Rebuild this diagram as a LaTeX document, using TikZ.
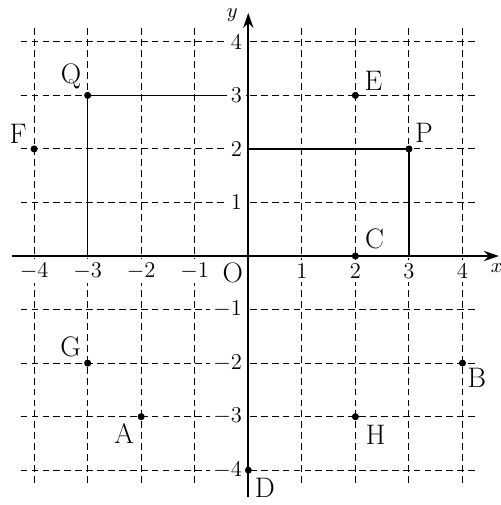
\documentclass[tikz,border=0pt]{standalone}
\usetikzlibrary{arrows.meta,calc}
\begin{document}
\begin{tikzpicture}[x=1cm,y=1cm,
  gridline/.style={line width=0.6pt, dash pattern=on 3.6pt off 2.2pt},
  axisline/.style={line width=0.85pt, -{Stealth[length=8pt,width=5.5pt]}},
  edgeline/.style={line width=0.85pt},
  dot/.style={circle, fill=black, inner sep=0pt, minimum size=3.6pt},
  lab/.style={font=\fontsize{15}{17}\selectfont, inner sep=0pt},
  tickx/.style={fill=white, inner sep=2pt, font=\large},
  ticky/.style={fill=white, inner sep=2pt, font=\large, anchor=east}]
\useasboundingbox (-4.637,-4.650) rectangle (4.719,4.781);
% grid
\foreach \i in {-4,-3,-2,-1,1,2,3,4} {
  \draw[gridline] (\i,4.25) -- (\i,-4.25);
  \draw[gridline] (-4.25,\i) -- (4.25,\i);
}
% axes
\coordinate (xs) at (-4.42,0);
\coordinate (xe) at (4.68,0);
\coordinate (ys) at (0,-4.50);
\coordinate (ye) at (0,4.54);
\draw[axisline] (xs) -- (xe);
\draw[axisline] (ys) -- (ye);
\node[font=\fontsize{11}{13}\selectfont, inner sep=0pt] (xl) at (4.64,-0.22) {$x$};
\node[font=\fontsize{11}{13}\selectfont, inner sep=0pt] (yl) at (-0.30,4.50) {$y$};
% points
\node[dot] (Q) at (-3,3) {};
\node[dot] (P) at (3,2) {};
\node[dot] (E) at (2,3) {};
\node[dot] (F) at (-4,2) {};
\node[dot] (C) at (2,0) {};
\node[dot] (G) at (-3,-2) {};
\node[dot] (A) at (-2,-3) {};
\node[dot] (B) at (4,-2) {};
\node[dot] (H) at (2,-3) {};
\node[dot] (D) at (0,-4) {};
\coordinate (Qx) at (-3,0);
\coordinate (Qy) at (0,3);
\coordinate (Px) at (3,0);
\coordinate (Py) at (0,2);
% solid lines
\draw[edgeline] (Q.center) -- (Qx);
\draw[edgeline] (Q.center) -- (Qy);
\draw[edgeline] (P.center) -- (Px);
\draw[edgeline] (P.center) -- (Py);
% tick labels
\foreach \i in {-4,-3,-2,-1,1,2,3,4} {
  \node[tickx] at (\i,-0.28) {$\i$};
  \node[ticky] at (-0.04,\i) {$\i$};
}
\node[lab] (O) at (-0.29,-0.31) {O};
% point labels
\node[lab] at ($(Q)+(-0.31,0.36)$) {Q};
\node[lab] at ($(F)+(-0.30,0.28)$) {F};
\node[lab] at ($(E)+(0.34,0.27)$) {E};
\node[lab] at ($(P)+(0.28,0.30)$) {P};
\node[lab] at ($(C)+(0.36,0.32)$) {C};
\node[lab] at ($(G)+(-0.32,0.30)$) {G};
\node[lab] at ($(A)+(-0.32,-0.32)$) {A};
\node[lab] at ($(B)+(0.27,-0.27)$) {B};
\node[lab] at ($(H)+(0.38,-0.34)$) {H};
\node[lab] at ($(D)+(0.31,-0.33)$) {D};
% redraw dots on top
\foreach \p in {Q,P,E,F,C,G,A,B,H,D} {\fill (\p) circle (1.8pt);}
\end{tikzpicture}
\end{document}
